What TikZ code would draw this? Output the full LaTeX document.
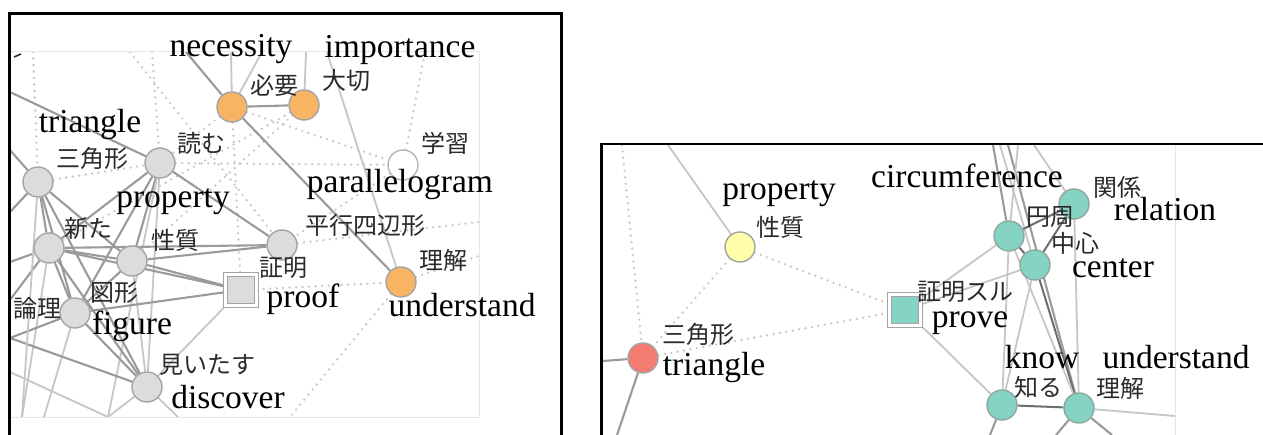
\documentclass[tikz,border=0pt]{standalone}
\usepackage{fontspec}
\setmainfont{Liberation Serif}
\newfontfamily\jpfont{Noto Sans CJK JP}
\usetikzlibrary{backgrounds}

\definecolor{orangefill}{HTML}{F9B463}
\definecolor{grayfill}{HTML}{DCDCDC}
\definecolor{nodeedge}{HTML}{A4A4A4}
\definecolor{yellowfill}{HTML}{FFFFAA}
\definecolor{redfill}{HTML}{F47C72}
\definecolor{tealfill}{HTML}{84D3C3}
\definecolor{tealedge}{HTML}{8FA6A0}
\definecolor{linkmid}{HTML}{9A9A9A}
\definecolor{linklight}{HTML}{C6C6C6}
\definecolor{linkdark}{HTML}{6E6E6E}
\definecolor{dotgray}{HTML}{C8C8C8}
\definecolor{framefaint}{HTML}{E6E6E6}
\definecolor{jptext}{HTML}{2A2A2A}

\tikzset{
  term/.style={circle, minimum size=30pt, inner sep=0pt, draw=nodeedge, line width=1.4pt},
  grayterm/.style={term, fill=grayfill},
  orangeterm/.style={term, fill=orangefill},
  whiteterm/.style={term, fill=white, draw=nodeedge!80},
  yellowterm/.style={term, fill=yellowfill},
  redterm/.style={term, fill=redfill},
  tealterm/.style={term, fill=tealfill, draw=tealedge},
  keysq/.style={rectangle, minimum size=31pt, inner sep=0pt, draw=nodeedge, double=white, double distance=3pt, line width=1.2pt},
  en/.style={font=\fontsize{33.5}{36}\selectfont, inner sep=0pt, anchor=base, text=black},
  jp/.style={font=\jpfont\fontsize{24}{26}\selectfont, inner sep=0pt, text=jptext},
  link/.style={draw=linkmid, line width=2.1pt},
  thin link/.style={draw=linklight, line width=1.8pt},
  dark link/.style={draw=linkdark, line width=2pt},
  dotlink/.style={draw=dotgray, line width=2.6pt, line cap=round, dash pattern=on 0pt off 6.5pt},
  panel/.style={draw=black, line width=2.8pt},
  inner frame/.style={draw=framefaint, line width=1pt},
}

\begin{document}
\begin{tikzpicture}[x=1pt, y=-1pt]
\useasboundingbox (0,0) rectangle (1263,435);
\begin{scope}[on background layer]
  \fill[white] (0,0) rectangle (1263,435);
\end{scope}

% ---------------- left network ----------------
\draw[inner frame] (10,52) -- (479,52) -- (479,417) -- (10,417);

\node[grayterm]   (yomu)      at (160,163) {};
\node[grayterm]   (sankaku)   at (38,182)  {};
\node[grayterm]   (arata)     at (49,248)  {};
\node[grayterm]   (seishitsu) at (132,261) {};
\node[grayterm]   (ronri)     at (75,313)  {};
\node[grayterm]   (heikou)    at (282,245) {};
\node[grayterm]   (miidasu)   at (147,387) {};
\node[orangeterm] (hitsuyou)  at (232,107) {};
\node[orangeterm] (taisetsu)  at (304,105) {};
\node[orangeterm] (rikaiL)    at (401,282) {};
\node[whiteterm]  (gakushu)   at (403,165) {};
\node[keysq, fill=grayfill] (shomei) at (241,290) {};

% loose ends at the border of the left network
\coordinate (lA) at (10,92);
\coordinate (lB) at (10,150);
\coordinate (lC) at (10,212);
\coordinate (lD) at (10,262);
\coordinate (lE) at (10,300);
\coordinate (lF) at (10,338);
\coordinate (lG) at (10,372);
\coordinate (bA) at (22,417);
\coordinate (bB) at (44,417);
\coordinate (bC) at (108,417);
\coordinate (bD) at (178,417);
\coordinate (bE) at (290,417);
\coordinate (tA) at (186,52);
\coordinate (tB) at (231,52);
\coordinate (tC) at (262,52);
\coordinate (tD) at (306,52);
\coordinate (tE) at (327,52);
\coordinate (tF) at (33,52);
\coordinate (tG) at (130,52);
\coordinate (tH) at (152,52);
\coordinate (tI) at (425,52);
\coordinate (rA) at (479,222);
\coordinate (rB) at (479,256);

\begin{scope}[on background layer]
 \begin{scope}
  \clip (10,52) rectangle (479,417);
  % dotted links
  \draw[dotlink] (tF) -- (sankaku);
  \draw[dotlink] (tG) -- (heikou);
  \draw[dotlink] (tH) -- (yomu);
  \draw[dotlink] (sankaku) -- (yomu);
  \draw[dotlink] (yomu) -- (gakushu);
  \draw[dotlink] (hitsuyou) -- (yomu);
  \draw[dotlink] (hitsuyou) -- (shomei);
  \draw[dotlink] (hitsuyou) -- (gakushu);
  \draw[dotlink] (taisetsu) -- (seishitsu);
  \draw[dotlink] (taisetsu) -- (arata);
  \draw[dotlink] (gakushu) -- (tI);
  \draw[dotlink] (gakushu) -- (heikou);
  \draw[dotlink] (heikou) -- (rA);
  \draw[dotlink] (shomei) -- (rikaiL);
  \draw[dotlink] (rikaiL) -- (rB);
  \draw[dotlink] (rikaiL) -- (bE);
  % solid links
  \draw[link] (hitsuyou) -- (taisetsu);
  \draw[link] (hitsuyou) -- (rikaiL);
  \draw[link] (hitsuyou) -- (tA);
  \draw[thin link] (hitsuyou) -- (tB);
  \draw[thin link] (hitsuyou) -- (tC);
  \draw[thin link] (taisetsu) -- (tD);
  \draw[thin link] (tE) -- (rikaiL);
  \draw[link] (lA) -- (yomu);
  \draw[link] (yomu) -- (heikou);
  \draw[link] (yomu) -- (arata);
  \draw[link] (yomu) -- (seishitsu);
  \draw[link] (yomu) -- (ronri);
  \draw[thin link] (yomu) -- (miidasu);
  \draw[thin link] (yomu) -- (bC);
  \draw[link] (sankaku) -- (arata);
  \draw[link] (sankaku) -- (seishitsu);
  \draw[link] (sankaku) -- (ronri);
  \draw[link] (sankaku) -- (miidasu);
  \draw[link] (sankaku) -- (lB);
  \draw[link] (sankaku) -- (lC);
  \draw[link] (arata) -- (seishitsu);
  \draw[link] (arata) -- (heikou);
  \draw[link] (arata) -- (shomei);
  \draw[link] (arata) -- (ronri);
  \draw[link] (arata) -- (miidasu);
  \draw[link] (arata) -- (lD);
  \draw[link] (arata) -- (lE);
  \draw[thin link] (arata) -- (bA);
  \draw[link] (seishitsu) -- (heikou);
  \draw[link] (seishitsu) -- (shomei);
  \draw[thin link] (seishitsu) -- (miidasu);
  \draw[link] (seishitsu) -- (ronri);
  \draw[link] (ronri) -- (shomei);
  \draw[link] (ronri) -- (miidasu);
  \draw[link] (ronri) -- (lF);
  \draw[thin link] (ronri) -- (bB);
  \draw[thin link] (miidasu) -- (shomei);
  \draw[link] (lF) -- (miidasu);
  \draw[thin link] (lG) -- (bC);
  \draw[thin link] (miidasu) -- (bC);
  \draw[thin link] (miidasu) -- (bD);
  \draw[thin link] (sankaku) -- (bA);
 \end{scope}
\end{scope}

% small mark at the upper left corner of the network
\draw[line width=1.6pt, black!80] (14,57) -- (21,54);

% labels of the left network
\node[en] (enNecessity)   at (231,57)  {necessity};
\node[en] (enImportance)  at (400,58)  {importance};
\node[en] (enTriangleL)   at (90,133)  {triangle};
\node[en] (enProperty)    at (173,208) {property};
\node[en] (enParallel)    at (400,193) {parallelogram};
\node[en] (enProof)       at (303,308) {proof};
\node[en] (enUnderstandL) at (462,317) {understand};
\node[en] (enFigure)      at (132,335) {figure};
\node[en] (enDiscover)    at (228,408) {discover};

\node[jp] (jpHitsuyou)  at (274,85)  {必要};
\node[jp] (jpTaisetsu)  at (346,80)  {大切};
\node[jp] (jpGakushu)   at (445,143) {学習};
\node[jp] (jpYomu)      at (201,143) {読む};
\node[jp] (jpSankakuL)  at (92,158)  {三角形};
\node[jp] (jpArata)     at (88,228)  {新た};
\node[jp] (jpSeishitsuL) at (175,240) {性質};
\node[jp] (jpZukei)     at (114,293) {図形};
\node[jp] (jpRonri)     at (37,308)  {論理};
\node[jp] (jpShomei)    at (283,268) {証明};
\node[jp] (jpHeikou)    at (365,225) {平行四辺形};
\node[jp] (jpRikaiL)    at (443,260) {理解};
\node[jp] (jpMiidasu)   at (207,365) {見いたす};

\draw[panel] (9.5,440) -- (9.5,13.7) -- (561.5,13.7) -- (561.5,440);

% ---------------- right network ----------------
\draw[inner frame] (1175,145) -- (1175,435);

\node[yellowterm] (seishitsuR) at (740,247) {};
\node[redterm]    (sankakuR)   at (643,358) {};
\node[keysq, fill=tealfill] (prove) at (905,310) {};
\node[tealterm]   (enshu)      at (1009,236) {};
\node[tealterm]   (kankei)     at (1074,204) {};
\node[tealterm]   (chushin)    at (1035,265) {};
\node[tealterm]   (shiru)      at (1002,405) {};
\node[tealterm]   (rikaiR)     at (1079,408) {};

\coordinate (qA) at (668,145);
\coordinate (qB) at (622,145);
\coordinate (qC) at (603,361);
\coordinate (qD) at (617,435);
\coordinate (qE) at (993,145);
\coordinate (qF) at (1000,145);
\coordinate (qG) at (1008,145);
\coordinate (qH) at (1018,145);
\coordinate (qI) at (1034,145);
\coordinate (qJ) at (1175,416);
\coordinate (qK) at (990,435);
\coordinate (qL) at (1056,435);
\coordinate (qM) at (1112,435);

\begin{scope}[on background layer]
 \begin{scope}
  \clip (603,145) rectangle (1263,435);
  \draw[dotlink] (seishitsuR) -- (sankakuR);
  \draw[dotlink] (seishitsuR) -- (prove);
  \draw[dotlink] (sankakuR) -- (prove);
  \draw[dotlink] (qB) -- (sankakuR);
  \draw[thin link] (qA) -- (seishitsuR);
  \draw[link] (qC) -- (sankakuR);
  \draw[link] (sankakuR) -- (qD);
  \draw[thin link] (prove) -- (enshu);
  \draw[thin link] (prove) -- (chushin);
  \draw[thin link] (prove) -- (shiru);
  \draw[link] (qE) -- (enshu);
  \draw[thin link] (qF) -- (chushin);
  \draw[link] (qG) -- (rikaiR);
  \draw[thin link] (qH) -- (enshu);
  \draw[thin link] (qI) -- (kankei);
  \draw[dark link] (enshu) -- (kankei);
  \draw[dark link] (enshu) -- (chushin);
  \draw[dark link] (chushin) -- (kankei);
  \draw[dark link] (chushin) -- (rikaiR);
  \draw[thin link] (chushin) -- (shiru);
  \draw[thin link] (enshu) -- (shiru);
  \draw[thin link] (enshu) -- (rikaiR);
  \draw[thin link] (kankei) -- (rikaiR);
  \draw[dark link] (shiru) -- (rikaiR);
  \draw[thin link] (rikaiR) -- (qJ);
  \draw[link] (shiru) -- (qK);
  \draw[link] (rikaiR) -- (qL);
  \draw[link] (rikaiR) -- (qM);
 \end{scope}
\end{scope}

\node[en] (enPropertyR)   at (779,200)  {property};
\node[en] (enTriangleR)   at (714,375)  {triangle};
\node[en] (enCircum)      at (967,188)  {circumference};
\node[en] (enRelation)    at (1165,221) {relation};
\node[en] (enCenter)      at (1113,278) {center};
\node[en] (enProve)       at (970,327)  {prove};
\node[en] (enKnow)        at (1042,368) {know};
\node[en] (enUnderstandR) at (1176,368) {understand};

\node[jp] (jpSeishitsuR) at (780,227)  {性質};
\node[jp] (jpSankakuR)   at (698,334)  {三角形};
\node[jp] (jpKankei)     at (1117,187) {関係};
\node[jp] (jpEnshu)      at (1050,217) {円周};
\node[jp] (jpChushin)    at (1075,243) {中心};
\node[jp] (jpShomeiR)    at (965,292)  {証明スル};
\node[jp] (jpShiru)      at (1038,387) {知る};
\node[jp] (jpRikaiR)     at (1120,388) {理解};

\draw[panel] (601.3,440) -- (601.3,144) -- (1266,144);
\end{tikzpicture}
\end{document}
